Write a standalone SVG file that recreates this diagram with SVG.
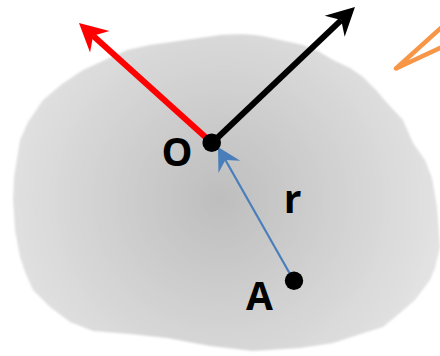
<svg xmlns="http://www.w3.org/2000/svg" width="440" height="356" viewBox="0 0 440 356">
<style>
.lbl{font-family:"Open Sans","Liberation Sans",sans-serif;font-weight:bold;font-size:39px;fill:#000;text-anchor:middle}
.dot{fill:#000}
</style>
<defs>
<radialGradient id="g" cx="220" cy="200" r="230" gradientUnits="userSpaceOnUse">
<stop offset="0" stop-color="#bebebe"/>
<stop offset="1" stop-color="#e4e4e4"/>
</radialGradient>
<filter id="soft" x="-5%" y="-5%" width="110%" height="110%"><feGaussianBlur stdDeviation="0.9"/></filter>
<marker id="hRed" markerUnits="userSpaceOnUse" orient="auto" overflow="visible" markerWidth="1" markerHeight="1"><path d="M19,0 L-9,-14.5 L0,0 L-9,14.5 Z" fill="#ff0000"/></marker>
<marker id="hBlack" markerUnits="userSpaceOnUse" orient="auto" overflow="visible" markerWidth="1" markerHeight="1"><path d="M19,0 L-9,-14.5 L0,0 L-9,14.5 Z" fill="#000"/></marker>
<marker id="hBlue" markerUnits="userSpaceOnUse" orient="auto" overflow="visible" markerWidth="1" markerHeight="1"><path d="M15,0 L-8,-12.5 L0,0 L-8,12.5 Z" fill="#4a7ebb"/></marker>
</defs>
<g id="body">
<path filter="url(#soft)" fill="url(#g)" d="M220,35 C235,34 250,34 262,36 L303,45 L318,51 L333,60 L350,68 L363,77 L376,90 L387,103 L403,120 L413,143 L425,160 L432,178 L437,207 L440,247 L435,268 L430,280 L415,300 L400,313 L383,327 L367,332 L333,343 L300,348 L253,351 L210,346 L167,338 L130,334 L93,331 L70,322 L50,307 L33,290 L25,272 L20,257 L15,230 L13,200 L14,177 L20,140 L28,122 L43,100 L62,84 L83,70 L105,60 L127,50 L150,45 L185,40 Z"/>
</g>
<g id="connectors">
<line x1="212" y1="143" x2="93.1" y2="35.7" stroke="#ff0000" stroke-width="6" marker-end="url(#hRed)"/>
<line x1="212" y1="143" x2="341.2" y2="20.1" stroke="#000" stroke-width="6" marker-end="url(#hBlack)"/>
<line x1="294" y1="281" x2="225.4" y2="160" stroke="#4a7ebb" stroke-width="2.2" marker-end="url(#hBlue)"/>
</g>
<g id="node-O">
<circle class="dot" cx="211.7" cy="142.7" r="9.3"/>
<text class="lbl" x="177" y="166">O</text>
</g>
<g id="node-A">
<circle class="dot" cx="294" cy="280.7" r="9.2"/>
<text class="lbl" x="259.5" y="310">A</text>
</g>
<g id="label-r">
<text class="lbl" x="292.5" y="213">r</text>
</g>
<g id="orange">
<polyline points="452,18 396,68.5 452,42.5" fill="none" stroke="#f79646" stroke-width="4.5" stroke-linejoin="round" stroke-linecap="round"/>
</g>
</svg>
